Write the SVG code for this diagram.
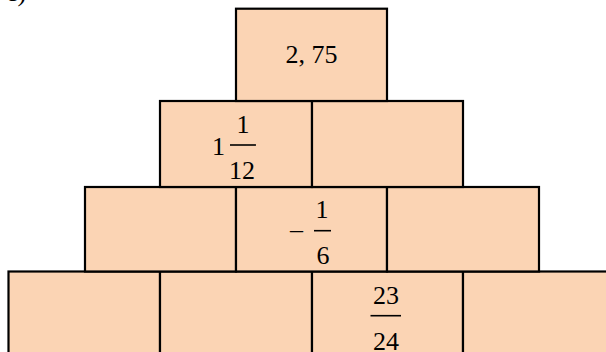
<svg xmlns="http://www.w3.org/2000/svg" width="606" height="352" viewBox="0 0 606 352">
<style>
.b{fill:#FBD4B4;stroke:#000;stroke-width:2.2}
.t{font-family:"Liberation Serif","Times New Roman",serif;font-size:26px;fill:#000}
.m{text-anchor:middle}
.bar{stroke:#000;stroke-width:1.6}
</style>
<rect width="606" height="352" fill="#fff"/>
<text class="t" x="6" y="1">c)</text>
<g id="row4">
<g id="n41"><rect class="b" x="8.5" y="271.5" width="151.5" height="90"/></g>
<g id="n42"><rect class="b" x="160" y="271.5" width="152" height="90"/></g>
<g id="n43"><rect class="b" x="312" y="271.5" width="151" height="90"/>
<text class="t m" x="386" y="304">23</text>
<line class="bar" x1="370.5" y1="315.7" x2="401" y2="315.7"/>
<text class="t m" x="386" y="350">24</text></g>
<g id="n44"><rect class="b" x="463" y="271.5" width="152" height="90"/></g>
</g>
<g id="row3">
<g id="n31"><rect class="b" x="85" y="187" width="151" height="84.5"/></g>
<g id="n32"><rect class="b" x="236" y="187" width="151" height="84.5"/>
<text class="t" x="290" y="238" font-size="22">–</text>
<text class="t m" x="322" y="218.3">1</text>
<line class="bar" x1="314" y1="230.7" x2="331" y2="230.7"/>
<text class="t m" x="323" y="264">6</text></g>
<g id="n33"><rect class="b" x="387" y="187" width="152" height="84.5"/></g>
</g>
<g id="row2">
<g id="n21"><rect class="b" x="160" y="101" width="152" height="86"/>
<text class="t" x="212" y="155">1</text>
<text class="t m" x="243" y="133">1</text>
<line class="bar" x1="230" y1="145" x2="256" y2="145"/>
<text class="t m" x="242" y="179">12</text></g>
<g id="n22"><rect class="b" x="312" y="101" width="151" height="86"/></g>
</g>
<g id="row1">
<g id="n11"><rect class="b" x="236" y="8.7" width="151" height="92.3"/>
<text class="t m" x="311.5" y="63">2, 75</text></g>
</g>
</svg>
